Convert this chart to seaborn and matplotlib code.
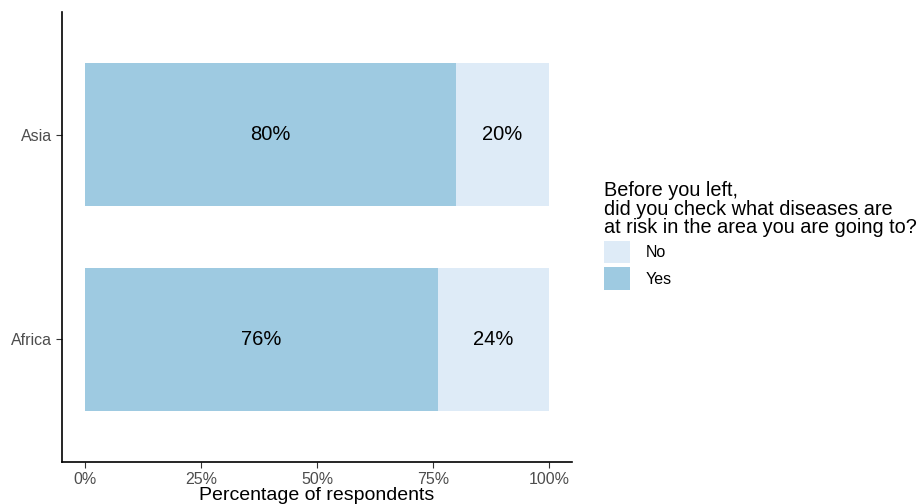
import matplotlib
matplotlib.use("Agg")
import matplotlib.pyplot as plt
import seaborn as sns
import pandas as pd
from matplotlib.patches import Patch

# data
regions = ["Asia", "Africa"]
yes_pct = [80, 76]
no_pct = [20, 24]
x_ticks = [0, 25, 50, 75, 100]
x_tick_labels = ["0%", "25%", "50%", "75%", "100%"]

yes_color = "#9ECAE1"
no_color = "#DEEBF7"

sns.set_theme(style="ticks")
plt.rcParams['font.family'] = ['Liberation Sans', 'DejaVu Sans']

df = pd.DataFrame({"region": regions, "yes": yes_pct, "no": no_pct})
df["total"] = df["yes"] + df["no"]

fig = plt.figure(figsize=(9.22, 5.04), dpi=100)
ax = fig.add_axes([62 / 922, 42 / 504, 510 / 922, 450 / 504])

# stacked: total (No) behind, Yes in front
sns.barplot(data=df, y="region", x="total", order=regions, color=no_color,
            width=0.7, saturation=1, linewidth=0, ax=ax, orient="h")
sns.barplot(data=df, y="region", x="yes", order=regions, color=yes_color,
            width=0.7, saturation=1, linewidth=0, ax=ax, orient="h")

for i, row in df.iterrows():
    ax.text(row["yes"] / 2, i, f"{row['yes']}%", ha="center", va="center",
            fontsize=14.5, color="black")
    ax.text(row["yes"] + row["no"] / 2, i, f"{row['no']}%", ha="center",
            va="center", fontsize=14.5, color="black")

ax.set_xlim(-5, 105)
ax.set_ylim(1.6, -0.6)
ax.set_xticks(x_ticks)
ax.set_xticklabels(x_tick_labels)
ax.set_xlabel("Percentage of respondents", fontsize=14, labelpad=0, color="black")
ax.set_ylabel("")
ax.tick_params(axis="both", labelsize=11.5, labelcolor="#4D4D4D", color="#333333",
               length=4, width=0.8, pad=3)
sns.despine(ax=ax)
for s in ["left", "bottom"]:
    ax.spines[s].set_linewidth(1.2)
    ax.spines[s].set_color("black")

handles = [Patch(facecolor=no_color, edgecolor="none", label="No"),
           Patch(facecolor=yes_color, edgecolor="none", label="Yes")]
leg = fig.legend(handles=handles,
                 title="Before you left,\ndid you check what diseases are\nat risk in the area you are going to?",
                 loc="upper left", bbox_to_anchor=(598 / 922, 1 - 175 / 504),
                 frameon=False, fontsize=11.5, title_fontsize=14.3,
                 handlelength=1.6, handleheight=1.8, labelspacing=0.25,
                 handletextpad=1.0, borderaxespad=0)
leg._legend_box.align = "left"
leg.get_title().set_linespacing(0.95)
leg.get_title().set_color("black")
for t in leg.get_texts():
    t.set_color("black")

fig.savefig("out.png", dpi=100)
